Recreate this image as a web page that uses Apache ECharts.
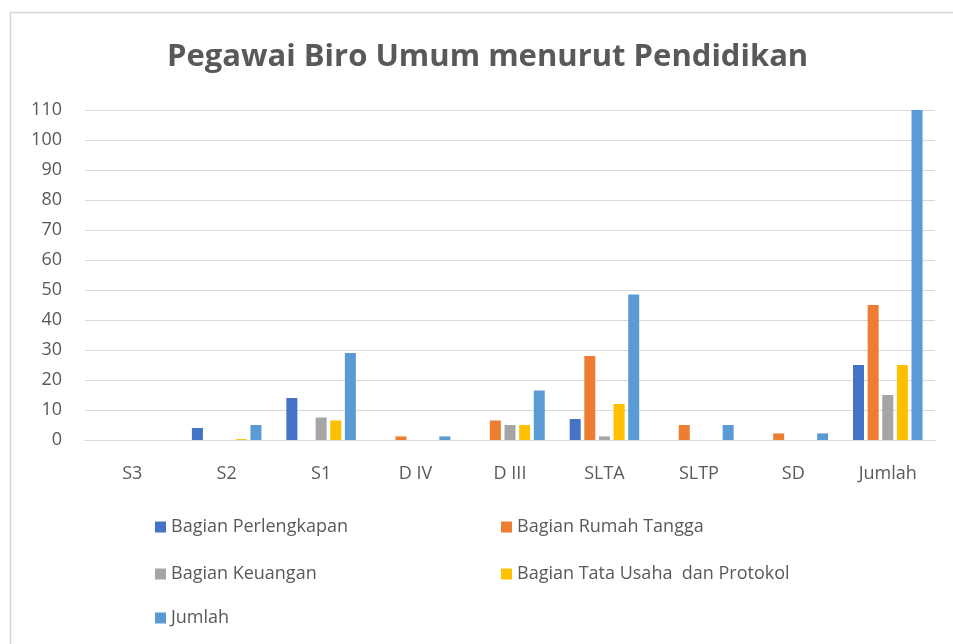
<!DOCTYPE html>
<html>
<head>
<meta charset="utf-8">
<script src="https://cdn.jsdelivr.net/npm/echarts@6/dist/echarts.min.js"></script>
<style>
html,body{margin:0;padding:0;background:#fff;}
#c{width:953px;height:644px;}
</style>
</head>
<body>
<div id="c"></div>
<script>
const categories = ['S3','S2','S1','D IV','D III','SLTA','SLTP','SD','Jumlah'];
const seriesNames = ['Bagian Perlengkapan','Bagian Rumah Tangga','Bagian Keuangan','Bagian Tata Usaha  dan Protokol','Jumlah'];
const perlengkapan = [0,4,14,0,0,7,0,0,25];
const rumahTangga = [0,0,0,1.2,6.5,28,5,2.2,45];
const keuangan = [0,0,7.5,0,5,1.2,0,0,15];
const tataUsaha = [0,0.3,6.5,0,5,12,0,0,25];
const jumlah = [0,5,29,1.2,16.5,48.5,5,2.2,110];
const yTicks = {min:0, max:110, interval:10};

const colors = ['#4472c4','#ed7d31','#a5a5a5','#ffc000','#5b9bd5'];
const values = [perlengkapan, rumahTangga, keuangan, tataUsaha, jumlah];
const font = 'Open Sans';
const txt = '#595959';

const legendPos = [
  {left:150, top:513},
  {left:496, top:513},
  {left:150, top:560},
  {left:496, top:560},
  {left:150, top:604}
];

const chart = echarts.init(document.getElementById('c'), null, {renderer:'canvas'});
chart.setOption({
  backgroundColor:'#fff',
  animation:false,
  color: colors,
  title:{
    text:'Pegawai Biro Umum menurut Pendidikan',
    left:162, top:37,
    textStyle:{fontFamily:font, fontWeight:'bold', fontSize:31, color:txt}
  },
  graphic:[{
    type:'rect', shape:{x:10.5,y:12.5,width:960,height:660},
    style:{fill:'none', stroke:'#d6d6d6', lineWidth:1.5}, z:-1
  }],
  legend: seriesNames.map((n,i)=>({
    data:[n], left:legendPos[i].left, top:legendPos[i].top,
    itemWidth:11, itemHeight:11, icon:'rect', itemGap:6,
    textStyle:{fontFamily:font, fontSize:18, color:txt}
  })),
  grid:{left:85, right:18, top:110, bottom:204, containLabel:false},
  xAxis:{
    type:'category', data:categories,
    axisLine:{lineStyle:{color:'#d9d9d9', width:1}},
    axisTick:{show:false},
    axisLabel:{fontFamily:font, fontSize:18, color:txt, margin:25}
  },
  yAxis:{
    type:'value', min:yTicks.min, max:yTicks.max, interval:yTicks.interval,
    axisLine:{show:false}, axisTick:{show:false},
    splitLine:{lineStyle:{color:'#d9d9d9', width:1}},
    axisLabel:{fontFamily:font, fontSize:18, color:txt, margin:23}
  },
  series: seriesNames.map((n,i)=>({
    name:n, type:'bar', data:values[i].map(v=>v===0?null:v),
    barWidth:11, barGap:'33%',
    itemStyle:{color:colors[i]}
  }))
});
</script>
</body>
</html>
